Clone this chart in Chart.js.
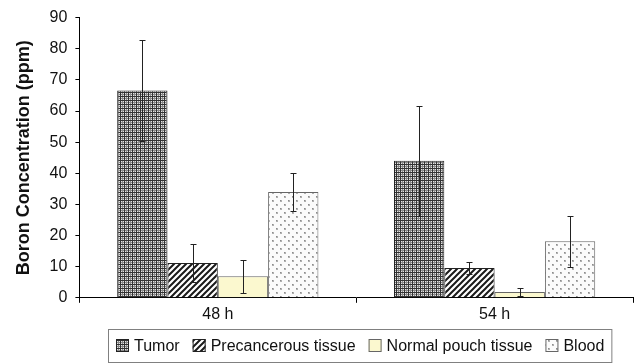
<!DOCTYPE html>
<html><head><meta charset="utf-8">
<script src="https://cdn.jsdelivr.net/npm/chart.js@4"></script>
<style>html,body{margin:0;padding:0;background:#fff}#wrap{width:636px;height:364px}</style>
</head><body><div id="wrap"><canvas id="c" width="636" height="364"></canvas></div>
<script>
const categories = ['48 h', '54 h'];
const seriesNames = ['Tumor', 'Precancerous tissue', 'Normal pouch tissue', 'Blood'];
const tumor = [66.6, 44.0];
const tumorErr = [16.2, 17.6];
const precancerous = [11.2, 9.6];
const precancerousErr = [6.2, 2.0];
const normalPouch = [6.9, 1.9];
const normalPouchErr = [5.4, 1.2];
const blood = [34.0, 18.2];
const bloodErr = [6.0, 8.2];
const yTicks = [0, 10, 20, 30, 40, 50, 60, 70, 80, 90];

const FONT = '"Liberation Sans", Arial, sans-serif';
function tile(w, h, draw) {
  const c = document.createElement('canvas'); c.width = w; c.height = h;
  const g = c.getContext('2d'); draw(g, w, h);
  return document.getElementById('c').getContext('2d').createPattern(c, 'repeat');
}
const patTumor = tile(4, 4, (g) => {
  g.fillStyle = '#e4e4e4'; g.fillRect(0, 0, 4, 4);
  g.fillStyle = '#8a8a8a'; g.fillRect(0, 2, 4, 1); g.fillRect(2, 0, 1, 4);
  g.fillStyle = '#333333'; g.fillRect(0, 0, 4, 1); g.fillRect(0, 0, 1, 4);
});
const patPre = tile(6, 6, (g) => {
  g.fillStyle = '#ffffff'; g.fillRect(0, 0, 6, 6);
  g.strokeStyle = '#1a1a1a'; g.lineWidth = 2;
  g.beginPath();
  g.moveTo(-1, 7); g.lineTo(7, -1);
  g.moveTo(-4, 4); g.lineTo(4, -4);
  g.moveTo(2, 10); g.lineTo(10, 2);
  g.stroke();
});
const patBlood = tile(8, 8, (g) => {
  g.fillStyle = '#fbfbfb'; g.fillRect(0, 0, 8, 8);
  g.fillStyle = '#b0b0b0'; g.fillRect(0, 0, 2, 2); g.fillRect(4, 4, 2, 2);
  g.fillStyle = '#8c8c8c'; g.fillRect(0, 0, 1, 1); g.fillRect(4, 4, 1, 1);
});
const normalFill = '#fbf8cf';

const fills = [patTumor, patPre, normalFill, patBlood];
const borders = ['#222', '#222', '#666', '#666'];
const values = [tumor, precancerous, normalPouch, blood];
const errs = [tumorErr, precancerousErr, normalPouchErr, bloodErr];

const errorBars = {
  id: 'errorBars',
  afterDatasetsDraw(chart) {
    const ctx = chart.ctx, y = chart.scales.y;
    ctx.save(); ctx.strokeStyle = '#222'; ctx.lineWidth = 1;
    chart.data.datasets.forEach((ds, i) => {
      chart.getDatasetMeta(i).data.forEach((bar, j) => {
        const v = ds.data[j], e = ds.err[j];
        const x = Math.round(bar.x) + 0.5;
        const y1 = Math.round(y.getPixelForValue(v + e)) + 0.5;
        const y2 = Math.round(y.getPixelForValue(Math.max(0, v - e))) + 0.5;
        ctx.beginPath();
        ctx.moveTo(x, y1); ctx.lineTo(x, y2);
        ctx.moveTo(x - 3, y1); ctx.lineTo(x + 3, y1);
        ctx.moveTo(x - 3, y2); ctx.lineTo(x + 3, y2);
        ctx.stroke();
      });
    });
    ctx.restore();
  }
};

const boxLegend = {
  id: 'boxLegend',
  afterDraw(chart) {
    const ctx = chart.ctx, a = chart.chartArea;
    ctx.save();
    ctx.font = '16px ' + FONT;
    ctx.textBaseline = 'middle';
    const box = 13, gapT = 5, gapI = 13, padL = 8, padR = 7;
    const widths = seriesNames.map(n => box + gapT + ctx.measureText(n).width);
    const total = widths.reduce((s, w) => s + w, 0) + gapI * (widths.length - 1);
    const cx = (a.left + a.right) / 2 + 4;
    let x = Math.round(cx - total / 2);
    const top = 329, bottom = 362, mid = (top + bottom) / 2;
    ctx.strokeStyle = '#808080'; ctx.lineWidth = 1;
    ctx.strokeRect(x - padL + 0.5, top + 0.5, total + padL + padR, bottom - top);
    seriesNames.forEach((n, i) => {
      const by = Math.round(mid - box / 2);
      ctx.fillStyle = fills[i];
      ctx.fillRect(x, by, box, box);
      ctx.strokeStyle = borders[i];
      ctx.strokeRect(x + 0.5, by + 0.5, box - 1, box - 1);
      ctx.fillStyle = '#111';
      ctx.fillText(n, x + box + gapT, mid + 1);
      x += widths[i] + gapI;
    });
    ctx.restore();
  }
};

new Chart(document.getElementById('c'), {
  type: 'bar',
  data: {
    labels: categories,
    datasets: seriesNames.map((n, i) => ({
      label: n, data: values[i], err: errs[i],
      backgroundColor: fills[i], borderColor: borders[i], borderWidth: 1,
      barPercentage: 1.0, categoryPercentage: 0.727
    }))
  },
  options: {
    responsive: false, animation: false, devicePixelRatio: 1,
    layout: { padding: { left: 13, right: 3, top: 8, bottom: 38 } },
    plugins: { legend: { display: false }, tooltip: { enabled: false } },
    scales: {
      x: {
        grid: { display: true, drawOnChartArea: false, offset: true, tickLength: 5, color: '#000' },
        border: { color: '#000', width: 1 },
        ticks: { color: '#111', font: { size: 16, family: FONT }, padding: 2 },
      },
      y: {
        min: 0, max: 90,
        afterBuildTicks(s) { s.ticks = yTicks.map(v => ({ value: v })); },
        grid: { display: true, drawOnChartArea: false, tickLength: 4, color: '#000' },
        border: { color: '#000', width: 1 },
        ticks: { color: '#111', font: { size: 16, family: FONT }, padding: 8 },
        title: { display: true, text: 'Boron Concentration (ppm)', color: '#111',
          font: { size: 18, weight: 'bold', family: FONT }, padding: { top: 0, bottom: 7 } }
      }
    }
  },
  plugins: [errorBars, boxLegend]
});
</script></body></html>
